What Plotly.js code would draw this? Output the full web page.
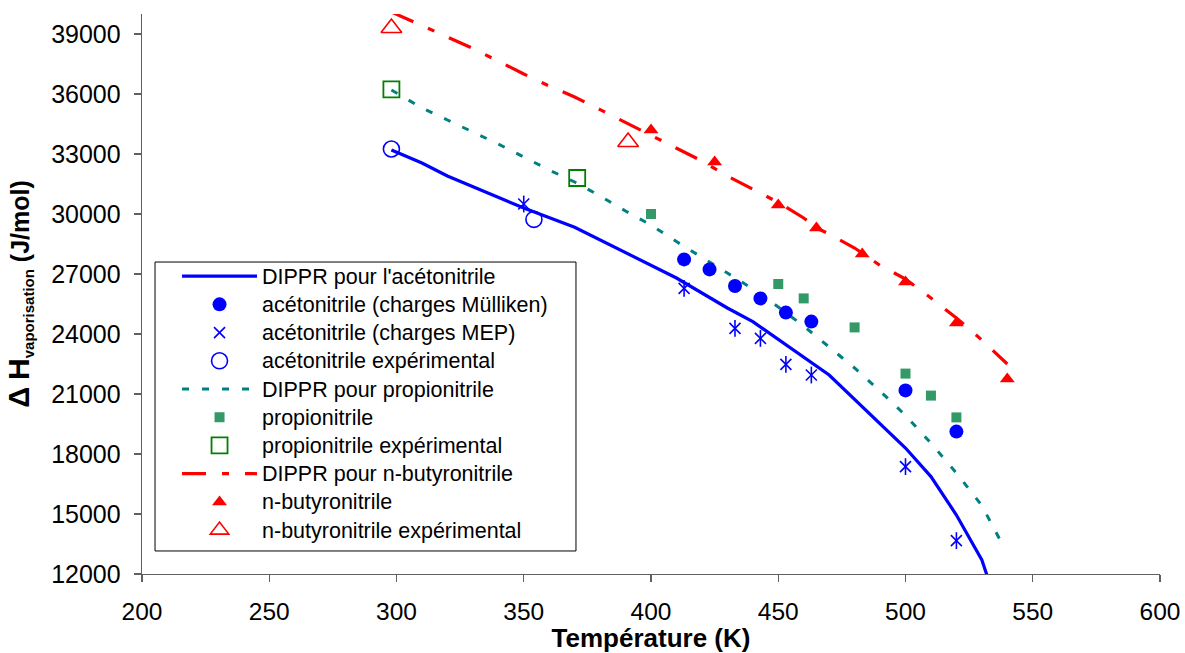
<!DOCTYPE html>
<html>
<head>
<meta charset="utf-8">
<script src="https://cdn.plot.ly/plotly-3.0.1.min.js"></script>
<style>html,body{margin:0;padding:0;background:#fff;}#chart{width:1185px;height:653px;}</style>
</head>
<body>
<div id="chart"></div>
<script>
// DIPPR curves
const dipprAcetoT = [298, 310, 320, 330, 350, 370, 410, 430, 440, 470, 500, 510, 520, 530, 540];
const dipprAcetoH = [33200, 32550, 31900, 31370, 30300, 29340, 26800, 25300, 24620, 21950, 18300, 16870, 14950, 12700, 8900];

const dipprPropT = [298, 310, 320, 330, 340, 350, 360, 370, 380, 390, 400, 410, 420, 430, 440, 450, 460, 470, 480, 490, 500, 510, 520, 530, 538];
const dipprPropH = [36200, 35300, 34700, 34100, 33500, 32850, 32200, 31600, 30900, 30150, 29450, 28620, 27850, 27050, 26250, 25350, 24400, 23340, 22300, 21150, 19930, 18540, 17050, 15420, 13500];

const dipprButT = [298, 310, 320, 330, 340, 350, 360, 370, 380, 390, 400, 410, 420, 430, 440, 450, 460, 465, 470, 480, 490, 500, 510, 520, 530, 540];
const dipprButH = [40100, 39400, 38850, 38280, 37620, 37000, 36400, 35850, 35220, 34580, 33950, 33300, 32650, 31900, 31230, 30580, 29800, 29300, 29000, 28300, 27430, 26750, 25800, 24800, 23700, 22500];

// acetonitrile simulations
const mullikenT = [413, 423, 433, 443, 453, 463, 500, 520];
const mullikenH = [27730, 27230, 26400, 25780, 25070, 24620, 21180, 19120];
const mepT = [350, 413, 433, 443, 453, 463, 500, 520];
const mepH = [30500, 26280, 24280, 23780, 22480, 21950, 17370, 13670];
const acetoExpT = [298, 354];
const acetoExpH = [33250, 29730];

// propionitrile
const propT = [400, 450, 460, 480, 500, 510, 520];
const propH = [30000, 26500, 25780, 24330, 22020, 20920, 19830];
const propExpT = [298, 371];
const propExpH = [36230, 31800];

// n-butyronitrile
const butT = [400, 425, 450, 465, 483, 500, 520, 540];
const butH = [34200, 32600, 30450, 29300, 28000, 26600, 24550, 21750];
const butExpT = [298, 391];
const butExpH = [39300, 33600];

const xTicks = [200, 250, 300, 350, 400, 450, 500, 550, 600];
const yTicks = [12000, 15000, 18000, 21000, 24000, 27000, 30000, 33000, 36000, 39000];

const seriesNames = [
  "DIPPR pour l'acétonitrile",
  'acétonitrile (charges Mülliken)',
  'acétonitrile (charges MEP)',
  'acétonitrile expérimental',
  'DIPPR pour propionitrile',
  'propionitrile',
  'propionitrile expérimental',
  'DIPPR pour n-butyronitrile',
  'n-butyronitrile',
  'n-butyronitrile expérimental'
];

const BLUE = '#0000FF', TEAL = '#008080', RED = '#FF0000', SEA = '#339966', GREEN = '#008000';
const nm = i => "<span style='font-size:21.5px'>" + seriesNames[i] + '</span>';

const traces = [
  {x: dipprAcetoT, y: dipprAcetoH, mode: 'lines', name: nm(0), legendrank: 1,
   line: {color: BLUE, width: 3.2}},
  {x: dipprPropT, y: dipprPropH, mode: 'lines', name: nm(4), legendrank: 5,
   line: {color: TEAL, width: 3, dash: '7px,13px'}},
  {x: dipprButT, y: dipprButH, mode: 'lines', name: nm(7), legendrank: 8,
   line: {color: RED, width: 3.2, dash: '24px,16px,7px,16px'}},
  {x: mullikenT, y: mullikenH, mode: 'markers', name: nm(1), legendrank: 2,
   marker: {symbol: 'circle', size: 14, color: BLUE}},
  {x: mepT, y: mepH, mode: 'markers', name: nm(2), legendrank: 3,
   marker: {symbol: 'x-thin-open', size: 11, color: BLUE, line: {color: BLUE, width: 1.6}}},
  {x: mepT, y: mepH, mode: 'markers', name: 'mep-v', showlegend: false,
   marker: {symbol: 'line-ns-open', size: 12, color: BLUE, line: {color: BLUE, width: 1.6}}},
  {x: acetoExpT, y: acetoExpH, mode: 'markers', name: nm(3), legendrank: 4,
   marker: {symbol: 'circle-open', size: 16, color: BLUE, line: {color: BLUE, width: 1.6}}},
  {x: propT, y: propH, mode: 'markers', name: nm(5), legendrank: 6,
   marker: {symbol: 'square', size: 10, color: SEA}},
  {x: propExpT, y: propExpH, mode: 'markers', name: nm(6), legendrank: 7,
   marker: {symbol: 'square-open', size: 16, color: GREEN, line: {color: GREEN, width: 1.8}}},
  {x: butT, y: butH, mode: 'markers', name: nm(8), legendrank: 9,
   marker: {symbol: 'triangle-up', size: 13, color: RED}},
  {x: butExpT, y: butExpH, mode: 'markers', name: nm(9), legendrank: 10,
   marker: {symbol: 'triangle-up-open', size: 18, color: RED, line: {color: RED, width: 1.6}}}
];

const FONT = 'Liberation Sans, Arial, sans-serif';

const layout = {
  width: 1185, height: 653,
  margin: {l: 142, r: 25, t: 14, b: 79},
  paper_bgcolor: '#ffffff', plot_bgcolor: '#ffffff',
  font: {family: FONT, color: '#000000'},
  showlegend: true,
  xaxis: {
    range: [200, 600], tickvals: xTicks, ticktext: xTicks.map(String),
    showgrid: false, zeroline: false, showline: true, linecolor: '#606060', linewidth: 1.3,
    ticks: 'outside', ticklen: 7, tickwidth: 1.3, tickcolor: '#606060',
    tickfont: {size: 24.5, family: FONT, color: '#000'},
    ticklabelstandoff: 8,
    title: {text: '<b>Température (K)</b>', font: {size: 26, family: FONT, color: '#000'}, standoff: 7}
  },
  yaxis: {
    range: [12000, 40000], tickvals: yTicks, ticktext: yTicks.map(String),
    showgrid: false, zeroline: false, showline: true, linecolor: '#606060', linewidth: 1.3,
    ticks: 'outside', ticklen: 7, tickwidth: 1.3, tickcolor: '#606060',
    tickfont: {size: 25, family: FONT, color: '#000'},
    ticklabelstandoff: 8,
    title: {text: "<b><span style='font-size:29px'>Δ</span> <span style='font-size:30px'>H</span><sub><span style='font-size:15px'>vaporisation</span></sub> (J/mol)</b>",
            font: {size: 25, family: FONT, color: '#000'}, standoff: 14}
  },
  shapes: [{
    type: 'rect', xref: 'paper', yref: 'paper', layer: 'above',
    x0: 0.0128, x1: 0.4263, y0: 0.0411, y1: 0.5571,
    line: {color: '#000000', width: 1}, fillcolor: '#ffffff'
  }],
  legend: {
    x: 0.0128, y: 0.566, xanchor: 'left', yanchor: 'top',
    bgcolor: 'rgba(0,0,0,0)', borderwidth: 0,
    font: {size: 19.4, family: FONT, color: '#000'},
    itemwidth: 75, indentation: 22, tracegroupgap: 0, traceorder: 'normal'
  }
};

Plotly.newPlot('chart', traces, layout, {displayModeBar: false, staticPlot: true});
</script>
</body>
</html>
